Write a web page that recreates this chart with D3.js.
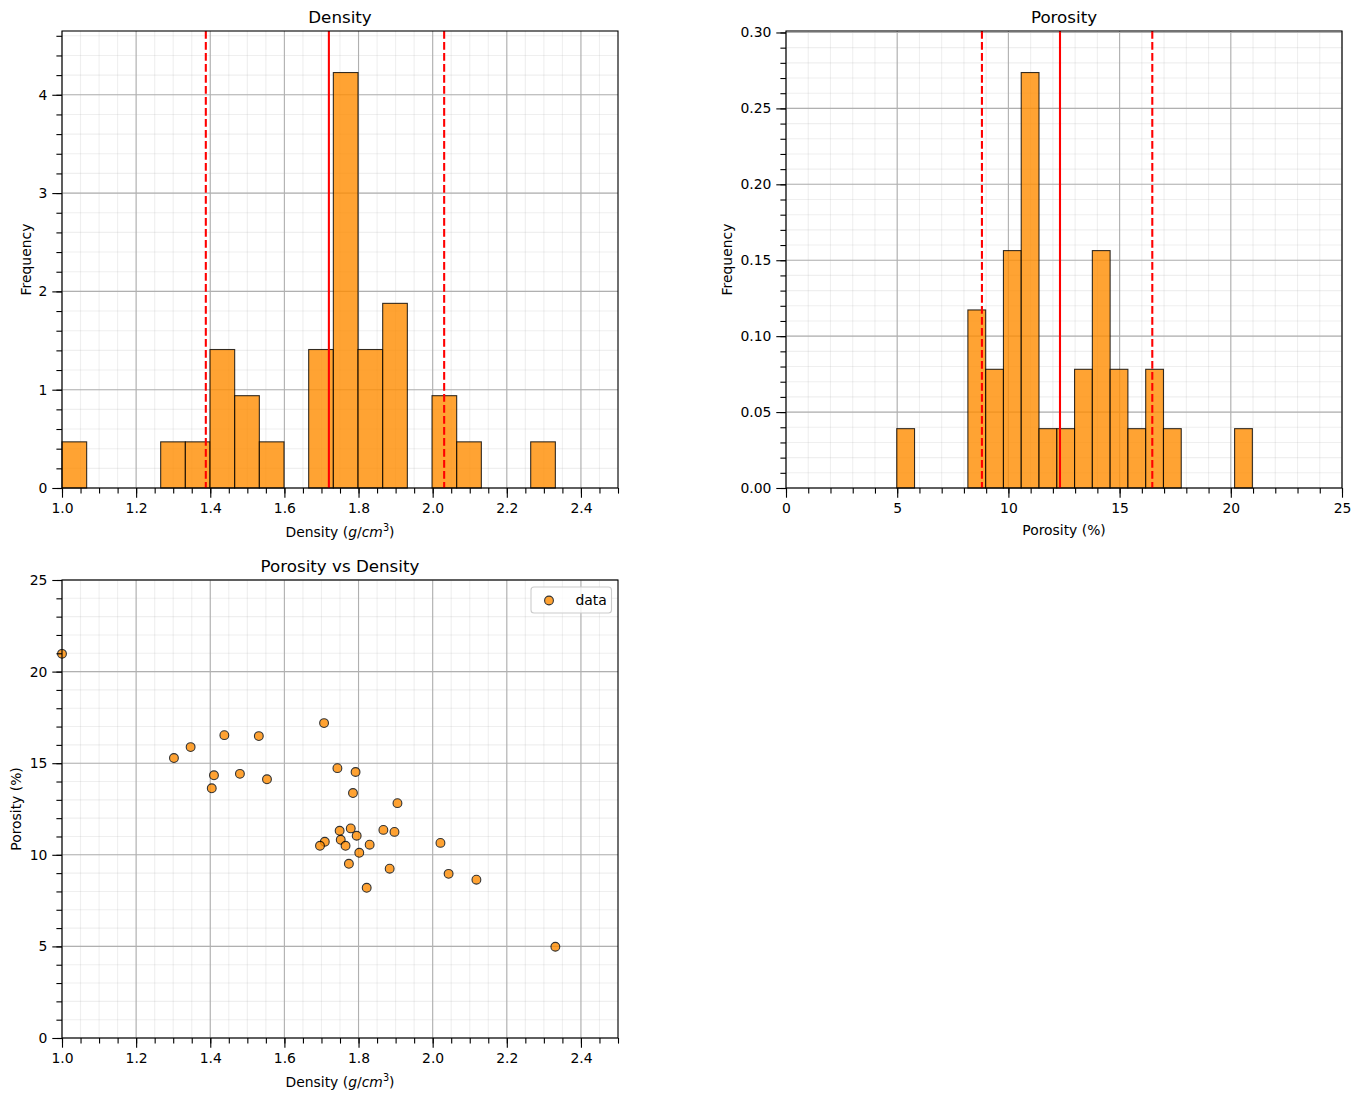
<!DOCTYPE html>
<html><head><meta charset="utf-8">
<script src="https://cdn.jsdelivr.net/npm/d3@7"></script>
<style>body{margin:0;background:#fff} svg text{font-family:"DejaVu Sans",sans-serif;fill:#000}</style>
</head><body><svg id="c" width="1360" height="1104"></svg>
<script>
// ---- data ----
const density = [1.000,1.302,1.347,1.438,1.531,1.410,1.404,1.480,1.553,1.707,1.743,1.792,1.785,1.905,1.749,1.779,
                 1.709,1.696,1.752,1.765,1.795,1.867,1.897,1.830,1.802,2.021,1.774,1.884,2.043,1.822,2.118,2.331];
const porosity = [20.97,15.28,15.88,16.53,16.48,14.34,13.63,14.42,14.12,17.19,14.73,14.52,13.37,12.82,11.31,11.44,
                  10.71,10.49,10.82,10.49,11.04,11.36,11.25,10.55,10.11,10.65,9.51,9.24,8.96,8.20,8.64,4.98];
// reference lines (solid = centre, dashed = lower / upper)
const densityRefLines = [1.720, 1.388, 2.031];
const porosityRefLines = [12.32, 8.81, 16.47];
const nBins = 20;
const densityXTicks = [1.0,1.2,1.4,1.6,1.8,2.0,2.2,2.4];
const densityYTicks = [0,1,2,3,4];
const porosityXTicks = [0,5,10,15,20,25];
const porosityYTicks = [0,0.05,0.10,0.15,0.20,0.25,0.30];
const scatterYTicks = [0,5,10,15,20,25];
const seriesLabel = "data";

// ---- helpers ----
const svg = d3.select("#c");
const ORANGE = "#ff8c00";
function range(a,b,s){const r=[];for(let v=a;v<=b+1e-9;v+=s)r.push(+v.toFixed(6));return r;}
function hist(vals){
  const mn=d3.min(vals), mx=d3.max(vals), w=(mx-mn)/nBins, N=vals.length;
  const counts=new Array(nBins).fill(0);
  vals.forEach(v=>{let i=Math.floor((v-mn)/w); if(i>=nBins)i=nBins-1; counts[i]++;});
  return counts.map((c,i)=>({x0:mn+i*w,x1:mn+(i+1)*w,h:c/(N*w)}));
}

function panel(box, xDom, yDom, xMaj, xMin, yMaj, yMin, xFmt, yFmt){
  const x=d3.scaleLinear().domain(xDom).range([box.x0,box.x1]);
  const y=d3.scaleLinear().domain(yDom).range([box.y1,box.y0]);
  const g=svg.append("g");
  const grid=g.append("g");
  xMin.filter(v=>v>=xDom[0]&&v<=xDom[1]).forEach(v=>grid.append("line").attr("x1",x(v)).attr("x2",x(v)).attr("y1",box.y0).attr("y2",box.y1).attr("stroke","#b0b0b0").attr("stroke-opacity",0.2).attr("stroke-width",1.1));
  yMin.filter(v=>v>=yDom[0]&&v<=yDom[1]).forEach(v=>grid.append("line").attr("y1",y(v)).attr("y2",y(v)).attr("x1",box.x0).attr("x2",box.x1).attr("stroke","#b0b0b0").attr("stroke-opacity",0.2).attr("stroke-width",1.1));
  xMaj.forEach(v=>grid.append("line").attr("x1",x(v)).attr("x2",x(v)).attr("y1",box.y0).attr("y2",box.y1).attr("stroke","#b0b0b0").attr("stroke-width",1.1));
  yMaj.forEach(v=>grid.append("line").attr("y1",y(v)).attr("y2",y(v)).attr("x1",box.x0).attr("x2",box.x1).attr("stroke","#b0b0b0").attr("stroke-width",1.1));
  const marks=g.append("g");
  const over=g.append("g");
  const ax=g.append("g");
  function styleAxis(sel){sel.select(".domain").remove();sel.attr("font-family",null).attr("font-size",13.9);sel.selectAll("line").attr("stroke","#000").attr("stroke-width",1.1);}
  ax.append("g").attr("transform",`translate(0,${box.y1})`).call(d3.axisBottom(x).tickValues(xMin).tickSize(5.6).tickFormat("")).call(styleAxis);
  ax.append("g").attr("transform",`translate(0,${box.y1})`).call(d3.axisBottom(x).tickValues(xMaj).tickSize(9.7).tickPadding(5.5).tickFormat(xFmt)).call(styleAxis);
  ax.append("g").attr("transform",`translate(${box.x0},0)`).call(d3.axisLeft(y).tickValues(yMin).tickSize(5.6).tickFormat("")).call(styleAxis);
  ax.append("g").attr("transform",`translate(${box.x0},0)`).call(d3.axisLeft(y).tickValues(yMaj).tickSize(9.7).tickPadding(4.9).tickFormat(yFmt)).call(styleAxis);
  g.append("rect").attr("x",box.x0).attr("y",box.y0).attr("width",box.x1-box.x0).attr("height",box.y1-box.y0).attr("fill","none").attr("stroke","#000").attr("stroke-width",1.1);
  return {x,y,marks,over,g};
}
function title(text,cx,y){svg.append("text").attr("x",cx).attr("y",y).attr("text-anchor","middle").attr("font-size",16.7).text(text);}
function ylabel(text,x,cy){svg.append("text").attr("transform",`translate(${x},${cy}) rotate(-90)`).attr("text-anchor","middle").attr("font-size",13.9).text(text);}
function densityLabel(cx,y){
  const t=svg.append("text").attr("x",cx).attr("y",y).attr("text-anchor","middle").attr("font-size",13.9);
  t.append("tspan").text("Density (");
  t.append("tspan").attr("font-style","italic").text("g");
  t.append("tspan").text("/");
  t.append("tspan").attr("font-style","italic").text("cm");
  t.append("tspan").attr("font-size",9.7).attr("dy",-6).text("3");
  t.append("tspan").attr("dy",6).text(")");
}
function histPanel(box, vals, refLines, xDom, xMaj, xMin, yMaj, yMin, xFmt, yFmt){
  const bins=hist(vals);
  const yMax=d3.max(bins,b=>b.h)*1.1;
  const p=panel(box,xDom,[0,yMax],xMaj,xMin,yMaj,yMin,xFmt,yFmt);
  p.marks.selectAll("rect").data(bins).join("rect")
    .attr("x",b=>p.x(b.x0)).attr("width",b=>p.x(b.x1)-p.x(b.x0))
    .attr("y",b=>p.y(b.h)).attr("height",b=>p.y(0)-p.y(b.h))
    .attr("fill",ORANGE).attr("fill-opacity",0.8).attr("stroke","#000").attr("stroke-opacity",0.8).attr("stroke-width",1.1);
  p.over.selectAll("line").data(refLines).join("line")
    .attr("x1",v=>p.x(v)).attr("x2",v=>p.x(v)).attr("y1",box.y0).attr("y2",box.y1)
    .attr("stroke","red").attr("stroke-width",2.08).attr("stroke-dasharray",(v,i)=>i===0?null:"7.7,3.3");
  return p;
}

// ---- Density histogram ----
const b1={x0:62,x1:618,y0:31,y1:488};
histPanel(b1,density,densityRefLines,[1.0,2.5],densityXTicks,range(1.0,2.5,0.05),densityYTicks,range(0,4.6,0.2),d3.format(".1f"),d3.format("d"));
title("Density",(b1.x0+b1.x1)/2,22.5);
ylabel("Frequency",31,(b1.y0+b1.y1)/2);
densityLabel((b1.x0+b1.x1)/2,537);

// ---- Porosity histogram ----
const b2={x0:786,x1:1342,y0:31,y1:488};
histPanel(b2,porosity,porosityRefLines,[0,25],porosityXTicks,range(0,25,1),porosityYTicks,range(0,0.30,0.01),d3.format("d"),d3.format(".2f"));
title("Porosity",(b2.x0+b2.x1)/2,22.5);
ylabel("Frequency",732,(b2.y0+b2.y1)/2);
svg.append("text").attr("x",(b2.x0+b2.x1)/2).attr("y",534.5).attr("text-anchor","middle").attr("font-size",13.9).text("Porosity (%)");

// ---- Scatter ----
const b3={x0:62,x1:618,y0:580,y1:1038};
const p3=panel(b3,[1.0,2.5],[0,25],densityXTicks,range(1.0,2.5,0.05),scatterYTicks,range(0,25,1),d3.format(".1f"),d3.format("d"));
p3.marks.selectAll("circle").data(density.map((d,i)=>[d,porosity[i]])).join("circle")
  .attr("cx",d=>p3.x(d[0])).attr("cy",d=>p3.y(d[1])).attr("r",4.4)
  .attr("fill",ORANGE).attr("stroke","#000").attr("stroke-width",1.1).attr("opacity",0.8);
title("Porosity vs Density",(b3.x0+b3.x1)/2,571.5);
ylabel("Porosity (%)",21,(b3.y0+b3.y1)/2);
densityLabel((b3.x0+b3.x1)/2,1087);
const lg=svg.append("g");
lg.append("rect").attr("x",531).attr("y",587).attr("width",80.5).attr("height",26).attr("rx",3)
  .attr("fill","#fff").attr("fill-opacity",0.8).attr("stroke","#cccccc").attr("stroke-width",1.1);
lg.append("circle").attr("cx",549).attr("cy",600.5).attr("r",4.4).attr("fill",ORANGE).attr("stroke","#000").attr("stroke-width",1.1).attr("opacity",0.8);
lg.append("text").attr("x",575.5).attr("y",605).attr("font-size",13.9).text(seriesLabel);
</script></body></html>
